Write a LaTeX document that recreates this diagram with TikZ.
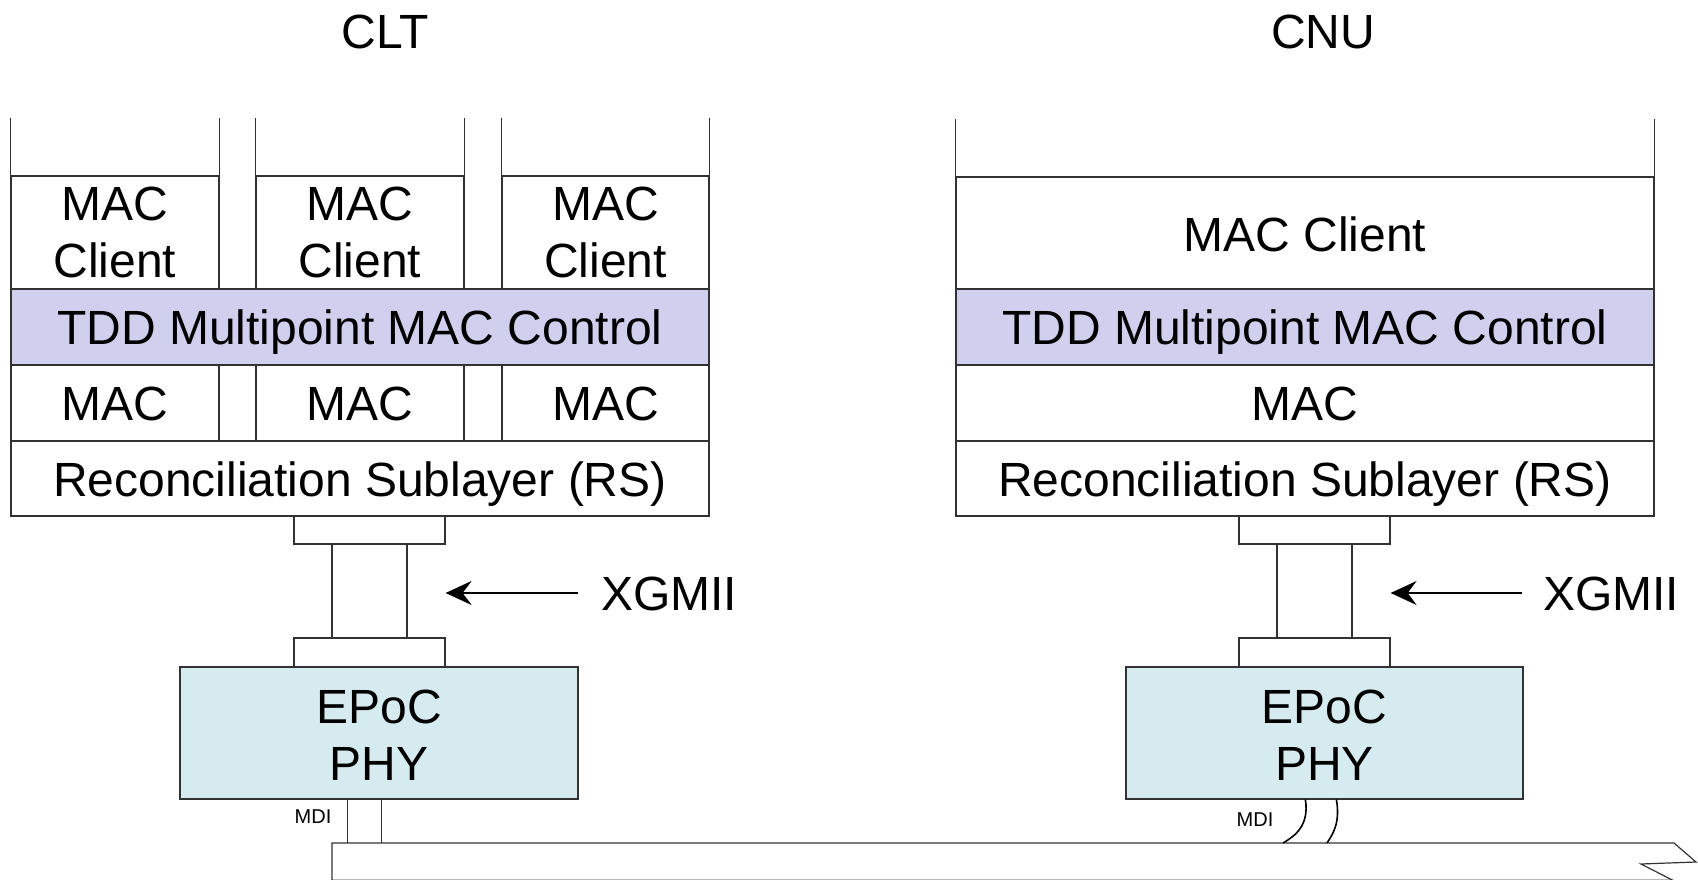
\documentclass[tikz,border=0pt]{standalone}
\usepackage{fontspec}
\setmainfont{Liberation Sans}
\usetikzlibrary{arrows.meta}
\definecolor{lineC}{RGB}{50,50,50}
\definecolor{tddC}{RGB}{208,208,238}
\definecolor{phyC}{RGB}{214,235,239}
\begin{document}
\begin{tikzpicture}[x=1pt,y=-1pt,
  ln/.style={draw=lineC, line width=1.2pt},
  arc/.style={draw=black, line width=1.6pt},
  box/.style={ln, inner sep=0pt, align=center, font=\fontsize{48}{57}\selectfont},
  one/.style={text height=35pt, text depth=0pt},
  tdd/.style={box, one, fill=tddC},
  phy/.style={box, fill=phyC},
  big/.style={inner sep=0pt, font=\fontsize{48}{57}\selectfont},
  small/.style={inner sep=0pt, font=\fontsize{20}{24}\selectfont},
  arr/.style={line width=1.8pt, -{Stealth[length=26pt,width=24pt,inset=9pt]}}
]
\useasboundingbox (0,0) rectangle (1698,880);

% titles
\node[big] (clt) at (385,32) {CLT};
\node[big] (cnu) at (1323,32) {CNU};

% ---------- CLT stack ----------
\node[box, minimum width=208pt, minimum height=113pt] (c1) at (115,232.5) {MAC\\Client};
\node[box, minimum width=208pt, minimum height=113pt] (c2) at (360,232.5) {MAC\\Client};
\node[box, minimum width=207pt, minimum height=113pt] (c3) at (605.5,232.5) {MAC\\Client};
\foreach \n in {c1,c2,c3}{
  \draw[ln] (\n.north west) -- ++(0,-57);
  \draw[ln] (\n.north east) -- ++(0,-57);
}
\node[tdd, minimum width=698pt, minimum height=76pt] (tddL) at (360,327) {TDD Multipoint MAC Control};
\node[box, one, minimum width=208pt, minimum height=76pt] (m1) at (115,403) {MAC};
\node[box, one, minimum width=208pt, minimum height=76pt] (m2) at (360,403) {MAC};
\node[box, one, minimum width=207pt, minimum height=76pt] (m3) at (605.5,403) {MAC};
\node[box, one, minimum width=698pt, minimum height=75pt] (rsL) at (360,478.5) {Reconciliation Sublayer (RS)};

% connector CLT
\node[box, minimum width=151pt, minimum height=28pt] (xt1) at (369.5,530) {};
\node[box, minimum width=75pt, minimum height=94pt] (xm1) at (369.5,591) {};
\node[box, minimum width=151pt, minimum height=29pt] (xb1) at (369.5,652.5) {};
\node[phy, minimum width=398pt, minimum height=132pt] (phyL) at (379,733) {};
\node[big, align=center] (phyLt) at ([yshift=-2pt]phyL.center) {EPoC\\PHY};

\node[big, one, anchor=west] (xgL) at (601,593) {XGMII};
\draw[arr] ([xshift=-23pt]xgL.west) -- (xgL.west -| xt1.east);

% ---------- CNU stack ----------
\node[box, one, minimum width=698pt, minimum height=113pt] (cR) at (1305,233.5) {MAC Client};
\draw[ln] (cR.north west) -- ++(0,-57);
\draw[ln] (cR.north east) -- ++(0,-57);
\node[tdd, minimum width=698pt, minimum height=76pt] (tddR) at (1305,327) {TDD Multipoint MAC Control};
\node[box, one, minimum width=698pt, minimum height=76pt] (mR) at (1305,403) {MAC};
\node[box, one, minimum width=698pt, minimum height=75pt] (rsR) at (1305,478.5) {Reconciliation Sublayer (RS)};

\node[box, minimum width=151pt, minimum height=28pt] (xt2) at (1314.5,530) {};
\node[box, minimum width=75pt, minimum height=94pt] (xm2) at (1314.5,591) {};
\node[box, minimum width=151pt, minimum height=29pt] (xb2) at (1314.5,652.5) {};
\node[phy, minimum width=397pt, minimum height=132pt] (phyR) at (1324.5,733) {};
\node[big, align=center] (phyRt) at ([yshift=-2pt]phyR.center) {EPoC\\PHY};

\node[big, one, anchor=west] (xgR) at (1543,593) {XGMII};
\draw[arr] ([xshift=-21pt]xgR.west) -- (xgR.west -| xt2.east);

% ---------- cable ----------
\coordinate (cabTL) at (332,843);
\coordinate (cabTR) at (1674,843);
\draw[lineC!35, line width=1pt] (332,879) -- (1670,879);
\draw[ln] (332,884) -- (cabTL) -- (cabTR) -- (1696,862) -- (1641,864) -- (1680,884);

% MDI CLT
\draw[ln] ([xshift=168pt]phyL.south west) -- ([xshift=168pt]phyL.south west |- cabTL);
\draw[ln] ([xshift=202pt]phyL.south west) -- ([xshift=202pt]phyL.south west |- cabTL);
\node[small] (mdiL) at (313,817) {MDI};

% MDI CNU
\coordinate (a1) at (1283,843);
\coordinate (a2) at (1327,843);
\draw[arc] ([xshift=180pt]phyR.south west) .. controls +(4,26) and +(12,-7) .. (a1);
\draw[arc] ([xshift=211pt]phyR.south west) .. controls +(4,23) and +(6,-9) .. (a2);
\node[small] (mdiR) at (1255,820) {MDI};
\end{tikzpicture}
\end{document}
